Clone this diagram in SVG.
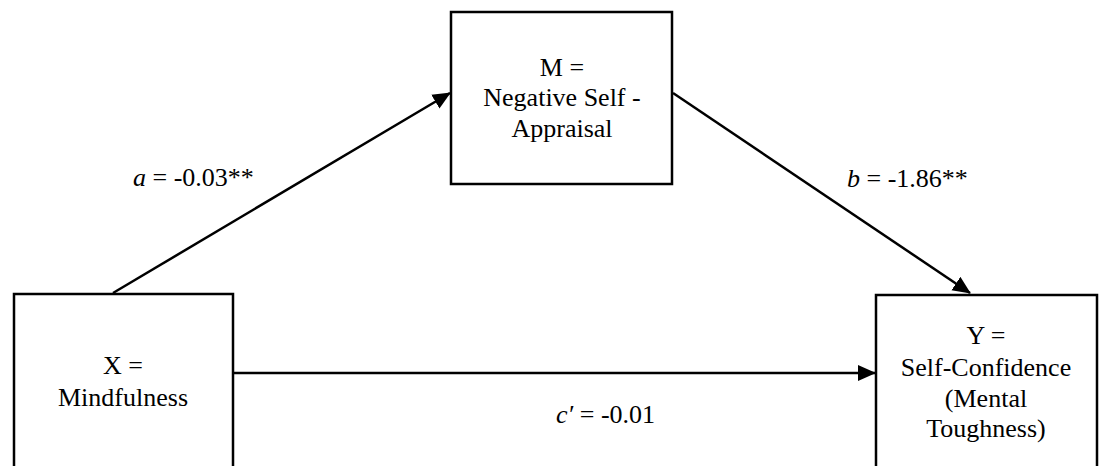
<svg xmlns="http://www.w3.org/2000/svg" width="1104" height="466" viewBox="0 0 1104 466">
<style>
.box{fill:#fff;stroke:#000;stroke-width:2.5}
.t{font-family:"Liberation Serif","Times New Roman",serif;font-size:26px;fill:#000}
.c{text-anchor:middle}
.ln{stroke:#000;stroke-width:2.5;fill:none;marker-end:url(#ah)}
</style>
<defs>
<marker id="ah" markerUnits="userSpaceOnUse" markerWidth="18" markerHeight="18" refX="17" refY="8" orient="auto" viewBox="0 0 18 16">
<path d="M0,0 L18,8 L0,16 z" fill="#000"/>
</marker>
</defs>
<rect width="1104" height="466" fill="#fff"/>
<g id="connectors">
<line class="ln" x1="113" y1="293" x2="450" y2="93"/>
<line class="ln" x1="673" y1="93" x2="970" y2="293"/>
<line class="ln" x1="233" y1="373" x2="875" y2="373"/>
</g>
<g id="nodeM">
<rect class="box" x="451" y="12" width="221" height="172"/>
<text class="t c" x="562" y="76">M =</text>
<text class="t c" x="562" y="106">Negative Self -</text>
<text class="t c" x="562" y="137">Appraisal</text>
</g>
<g id="nodeX">
<rect class="box" x="14" y="294" width="219" height="200"/>
<text class="t c" x="123" y="374">X =</text>
<text class="t c" x="123" y="406">Mindfulness</text>
</g>
<g id="nodeY">
<rect class="box" x="876" y="295" width="221" height="200"/>
<text class="t c" x="986" y="344">Y =</text>
<text class="t c" x="986" y="376">Self-Confidence</text>
<text class="t c" x="986" y="407">(Mental</text>
<text class="t c" x="986" y="437">Toughness)</text>
</g>
<g id="labels">
<text class="t" x="133" y="186"><tspan font-style="italic">a</tspan> = -0.03**</text>
<text class="t" x="847" y="187"><tspan font-style="italic">b</tspan> = -1.86**</text>
<text class="t" x="556" y="423"><tspan font-style="italic">c′</tspan> = -0.01</text>
</g>
</svg>
